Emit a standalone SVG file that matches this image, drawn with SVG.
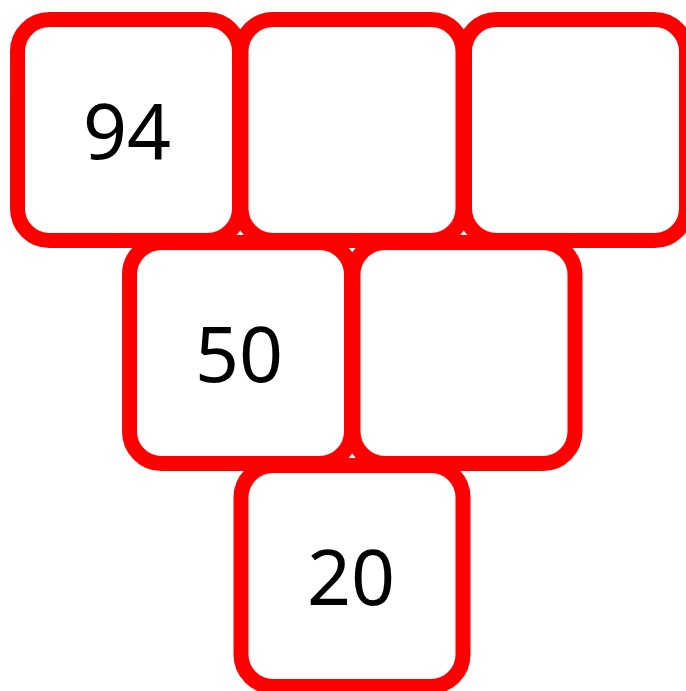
<svg xmlns="http://www.w3.org/2000/svg" width="686" height="691" viewBox="0 0 686 691">
<style>
.box{fill:#ffffff;stroke:#ff0000;stroke-width:15}
.lbl{font-family:"Noto Sans","Open Sans",sans-serif;font-size:77px;fill:#000000;text-anchor:middle}
</style>
<rect width="686" height="691" fill="#ffffff"/>
<g id="connectors"></g>
<g id="n1"><rect class="box" x="17.5" y="19.5" width="222" height="221" rx="32"/><text class="lbl" x="127" y="159">94</text></g>
<g id="n2"><rect class="box" x="241" y="19.5" width="222" height="221" rx="32"/></g>
<g id="n3"><rect class="box" x="464.5" y="19.5" width="222" height="221" rx="32"/></g>
<g id="n4"><rect class="box" x="129.5" y="242.5" width="222" height="221" rx="32"/><text class="lbl" x="239" y="382">50</text></g>
<g id="n5"><rect class="box" x="353" y="242.5" width="222" height="221" rx="32"/></g>
<g id="n6"><rect class="box" x="241" y="465.5" width="222" height="221" rx="32"/><text class="lbl" x="351" y="605">20</text></g>
</svg>
